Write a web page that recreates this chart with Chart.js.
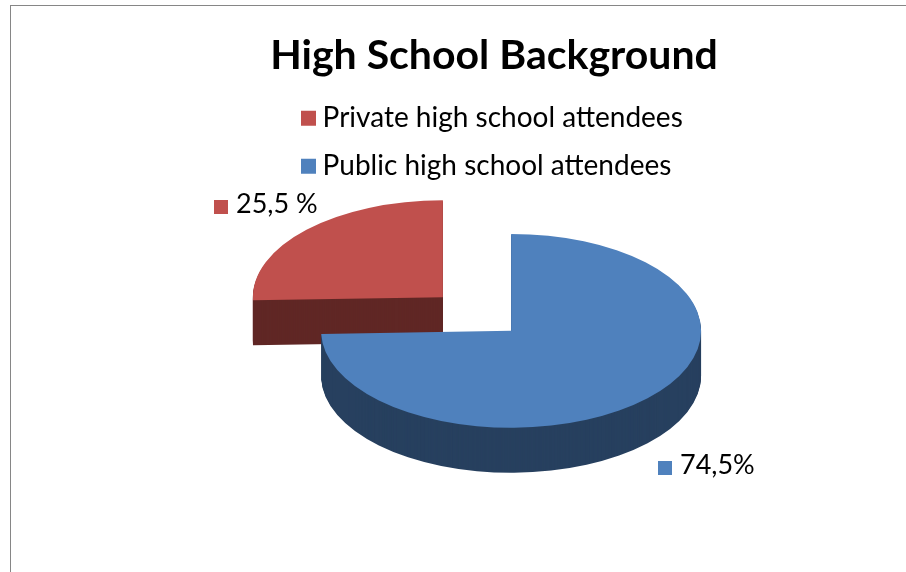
<!DOCTYPE html>
<html>
<head>
<meta charset="utf-8">
<title>High School Background</title>
<script src="https://cdn.jsdelivr.net/npm/chart.js@4/dist/chart.umd.min.js"></script>
<style>
    html, body { margin:0; padding:0; background:#fff; overflow:hidden; }
    #frame { position:absolute; left:10px; top:5px; width:896px; height:567px;
             border-left:1px solid #868686; border-top:1px solid #868686; box-sizing:border-box; }
    #pieChart { position:absolute; left:144px; top:0; }
</style>
</head>
<body>
<div id="frame"></div>
<canvas id="pieChart" width="700" height="572"></canvas>
<script>
// Series
const categories = ["Public high school attendees", "Private high school attendees"];
const shares = [74.5, 25.5];
const valueLabels = ["74,5%", "25,5 %"];
const sliceColors = ["#4F81BD", "#C0504D"];
const wallColors = ["#27405F", "#602725"];

// Pie geometry
const PIE_X = 333;
const PIE_Y = 314;
const PIE_RADIUS = 190;
const SQUASH = 0.51;
const DEPTH = 45;
const EXPLODE = 47.5;

// Value label placement, same order as the series
const labelBoxX = [514, 70];
const labelBoxY = [461, 200];
const LABEL_BOX = 14;
const LABEL_GAP = 8;

// Draws one slice of the tilted pie at a vertical drop below its top face
function drawSlice(ctx, arc, drop, color){

    const mid = (arc.startAngle + arc.endAngle) / 2;
    const saved = arc.options;

    ctx.save();
    ctx.translate(PIE_X, PIE_Y + drop);
    ctx.scale(1, SQUASH);
    ctx.translate(Math.cos(mid) * EXPLODE - arc.x, Math.sin(mid) * EXPLODE - arc.y);
    arc.options = Object.assign({}, saved, {backgroundColor:color});
    arc.draw(ctx);
    arc.options = saved;
    ctx.restore();

}

const tiltedPie = {

    id:"tiltedPie",

    afterLayout(chart){

        // Legend rows start at the same x
        chart.legend.left = 144.4;

    },

    beforeDatasetDraw(chart){

        const ctx = chart.ctx;
        const arcs = chart.getDatasetMeta(0).data;

        // Back slice first so the larger one overlaps its wall
        for(let i = arcs.length - 1; i >= 0; i--){

            for(let drop = DEPTH; drop > 0; drop--){

                drawSlice(ctx, arcs[i], drop, wallColors[i]);

            }

            drawSlice(ctx, arcs[i], 0, sliceColors[i]);

        }

        return false;

    },

    afterDraw(chart){

        const ctx = chart.ctx;

        ctx.save();
        ctx.font = "27px Lato";
        ctx.textBaseline = "middle";
        ctx.textAlign = "left";

        valueLabels.forEach((text, i) => {

            ctx.fillStyle = sliceColors[i];
            ctx.fillRect(labelBoxX[i], labelBoxY[i], LABEL_BOX, LABEL_BOX);

            ctx.fillStyle = "#000";
            ctx.fillText(text, labelBoxX[i] + LABEL_BOX + LABEL_GAP, labelBoxY[i] + 4);

        });

        ctx.restore();

    }

};

new Chart(document.getElementById("pieChart"), {

    type:"pie",

    data:{
        labels:categories,
        datasets:[{
            data:shares,
            backgroundColor:sliceColors,
            borderWidth:0,
            radius:PIE_RADIUS,
            clip:false
        }]
    },

    options:{
        responsive:false,
        animation:false,
        layout:{ padding:0 },
        plugins:{
            title:{
                display:true,
                text:"High School Background",
                color:"#000",
                font:{ family:"Lato", size:41, weight:"bold" },
                padding:{ top:31, bottom:4 }
            },
            legend:{
                display:true,
                position:"top",
                align:"start",
                reverse:true,
                labels:{
                    color:"#000",
                    font:{ family:"Lato", size:28 },
                    usePointStyle:true,
                    pointStyle:"rect",
                    boxWidth:0.2,
                    boxHeight:15,
                    padding:20
                }
            },
            tooltip:{ enabled:false }
        }
    },

    plugins:[tiltedPie]

});
</script>
</body>
</html>
